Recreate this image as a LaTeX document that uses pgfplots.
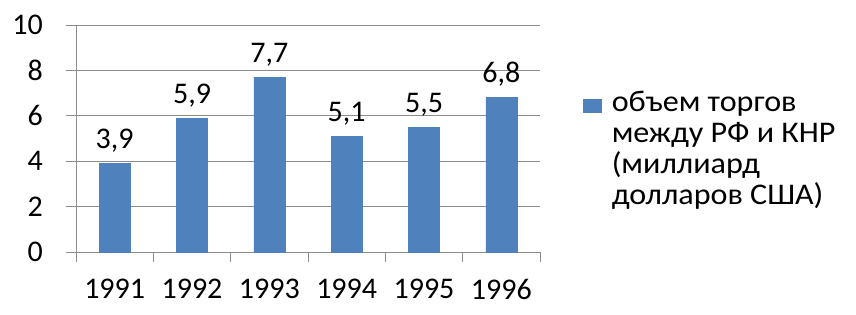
\documentclass[border=0pt]{standalone}
\usepackage{fontspec}
\setmainfont{Carlito}
\newfontfamily\legfont{Carlito}[FakeStretch=1.07]
\usepackage{pgfplots}
\pgfplotsset{compat=1.18}
\definecolor{barblue}{HTML}{4F81BD}
\definecolor{axisgray}{HTML}{8C8C8C}
\begin{document}
\fontsize{30}{31}\selectfont
\begin{tikzpicture}
\useasboundingbox (-76pt,-62pt) rectangle (780pt,252pt);
\begin{axis}[
  at={(0pt,0pt)}, anchor=south west,
  scale only axis, width=464pt, height=227pt,
  ybar, bar width=31pt,
  xmin=-0.5, xmax=5.5, ymin=0, ymax=10,
  xtick={-0.5,0.5,...,5.5}, xticklabels={1991,1992,1993,1994,1995,1996,{}},
  ytick={0,2,...,10},
  axis x line*=bottom, axis y line*=left,
  axis line style={axisgray, line width=0.8pt, -},
  ymajorgrids, major grid style={axisgray, line width=0.8pt},
  tick align=outside, major tick length=10pt,
  tick style={axisgray, line width=0.8pt},
  /pgf/number format/assume math mode=true,
  yticklabel style={inner sep=0pt, xshift=-23pt},
  xticklabel style={inner sep=0pt, anchor=north, xshift=38.67pt, yshift=-17pt},
  nodes near coords,
  nodes near coords style={/pgf/number format/fixed, /pgf/number format/fixed zerofill, /pgf/number format/precision=1, /pgf/number format/use comma, /pgf/number format/assume math mode=true},
  every node near coord/.append style={anchor=base, yshift=15pt, inner sep=0pt, black},
  legend style={draw=none, fill=none, at={(1.093,0.725)}, anchor=north west, inner sep=0pt, /tikz/column sep=8pt, font=\legfont},
  legend cell align=left,
  legend image code/.code={\fill[barblue] (0pt,-9pt) rectangle (18pt,4pt);},
]
\addplot[fill=barblue, draw=barblue] coordinates {(0,3.9) (1,5.9) (2,7.7) (3,5.1) (4,5.5) (5,6.8)};
\addlegendentry{\begin{tabular}[t]{@{}l@{}}объем торгов\\между РФ и КНР\\(миллиард\\долларов США)\end{tabular}}
\end{axis}
\end{tikzpicture}
\end{document}
